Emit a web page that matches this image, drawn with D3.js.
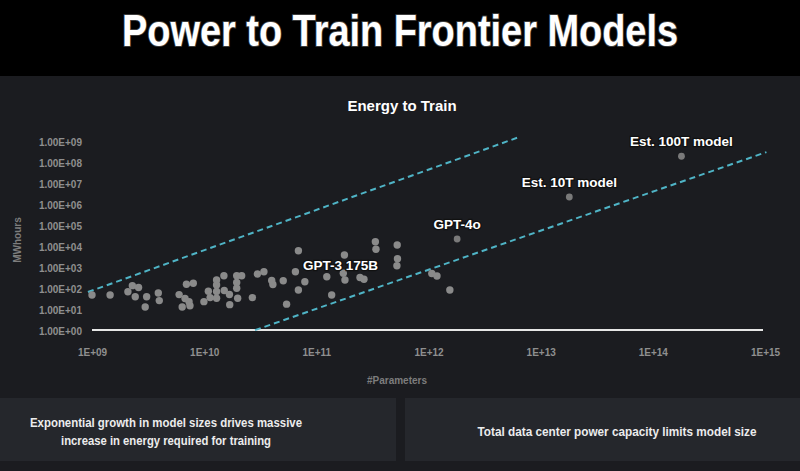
<!DOCTYPE html>
<html><head><meta charset="utf-8">
<script src="https://cdn.jsdelivr.net/npm/d3@7"></script>
<style>
html,body{margin:0;padding:0;background:#1b1c20;}
svg{display:block;}
</style></head>
<body>
<svg id="chart" width="800" height="471"></svg>
<script>
// ---- data ----
const params = [1.0e9,1.45e9,2.09e9,2.29e9,2.6e9,2.43e9,3.07e9,2.98e9,3.9e9,3.98e9,
  5.98e9,6.75e9,6.37e9,6.95e9,8.0e9,7.33e9,7.47e9,9.95e9,1.09e10,1.13e10,
  1.29e10,1.29e10,1.29e10,1.29e10,1.5e10,1.51e10,1.68e10,1.69e10,1.95e10,2.16e10,
  1.95e10,1.95e10,1.99e10,2.69e10,2.98e10,3.41e10,4.0e10,4.1e10,5.07e10,5.43e10,
  6.92e10,6.92e10,6.51e10,7.9e10,1.24e11,1.37e11,1.74e11,1.8e11,1.78e11,2.45e11,
  2.66e11,3.36e11,3.4e11,5.26e11,5.29e11,5.23e11,1.07e12,1.19e12,1.55e12];
const mwh = [52,52,74,144,118,43,43,14,65,28,
  54,35,14,169,187,25,16,25,78,39,
  268,155,76,36,430,85,55,18,430,430,
  204,108,36,39,518,667,254,164,248,19,
  6670,90,667,223,385,52,560,268,4160,353,
  290,17900,7770,12400,2740,1270,547,416,90];
const namedModels = ["GPT-3 175B","GPT-4o","Est. 10T model","Est. 100T model"];
const namedParams = [1.75e11,1.8e12,1.8e13,1.8e14];
const namedMwh = [1287,2.4e4,2.4e6,2.1e8];
const showNamedDot = [false,true,true,true];
const upperTrend = [[9.2e8,72],[6.27e12,1.64e9]];
const lowerTrend = [[2.84e10,1.1],[1.03e15,3.3e8]];
const xTicks = [1e9,1e10,1e11,1e12,1e13,1e14,1e15];
const yTicks = [1,1e1,1e2,1e3,1e4,1e5,1e6,1e7,1e8,1e9];
const mainTitle = "Power to Train Frontier Models";
const chartTitle = "Energy to Train";
const xLabel = "#Parameters";
const yLabel = "MWhours";
const noteLeft = ["Exponential growth in model sizes drives massive","increase in energy required for training"];
const noteRight = ["Total data center power capacity limits model size"];

// ---- drawing ----
const svg = d3.select("#chart");
const sans = "'Liberation Sans',Arial,Helvetica,sans-serif";

// backgrounds
svg.append("rect").attr("x",0).attr("y",0).attr("width",800).attr("height",76).attr("fill","#000");
svg.append("rect").attr("x",0).attr("y",76).attr("width",800).attr("height",395).attr("fill","#1b1c20");
svg.append("rect").attr("x",0).attr("y",398).attr("width",396).attr("height",63).attr("fill","#25272c");
svg.append("rect").attr("x",405).attr("y",398).attr("width",395).attr("height",63).attr("fill","#25272c");

// main title (condensed look)
svg.append("text").attr("x",400).attr("y",46).attr("text-anchor","middle")
  .attr("font-family",sans).attr("font-weight","bold").attr("font-size",45)
  .attr("textLength",556).attr("lengthAdjust","spacingAndGlyphs")
  .attr("fill","#fff").attr("stroke","#3a3a3a").attr("stroke-width",2).attr("paint-order","stroke")
  .text(mainTitle);

// chart title
svg.append("text").attr("x",402).attr("y",111).attr("text-anchor","middle")
  .attr("font-family",sans).attr("font-weight","bold").attr("font-size",15)
  .attr("fill","#fff").text(chartTitle);

const x = d3.scaleLog().domain([1e9,1e15]).range([92,765]);
const y = d3.scaleLog().domain([1,1e9]).range([331,142]);

// axes
const yFmt = d => "1.00E+" + String(Math.round(Math.log10(d))).padStart(2,"0");
const xFmt = d => "1E+" + String(Math.round(Math.log10(d))).padStart(2,"0");

const gy = svg.append("g").attr("transform","translate(92,0)")
  .call(d3.axisLeft(y).tickValues(yTicks).tickFormat(yFmt).tickSize(0).tickPadding(10));
const gx = svg.append("g").attr("transform","translate(0,331)")
  .call(d3.axisBottom(x).tickValues(xTicks).tickFormat(xFmt).tickSize(0).tickPadding(18));
[gx,gy].forEach(g=>{
  g.select(".domain").remove();
  g.selectAll("text").attr("fill","#8f8f8f").attr("font-family",sans)
   .attr("font-weight","bold").attr("font-size",10);
});

// baseline at y = 1
svg.append("line").attr("x1",x(1e9)).attr("x2",x(1e15)-2)
  .attr("y1",y(1)-1).attr("y2",y(1)-1).attr("stroke","#e6e6e6").attr("stroke-width",2);

// axis titles
svg.append("text").attr("x",397).attr("y",384).attr("text-anchor","middle")
  .attr("font-family",sans).attr("font-weight","bold").attr("font-size",10)
  .attr("fill","#7d7d7d").text(xLabel);
svg.append("text").attr("transform","translate(21,240) rotate(-90)").attr("text-anchor","middle")
  .attr("font-family",sans).attr("font-weight","bold").attr("font-size",10)
  .attr("fill","#7d7d7d").text(yLabel);

// trend lines
const line = d3.line().x(d=>x(d[0])).y(d=>y(d[1]));
[upperTrend,lowerTrend].forEach(t=>{
  svg.append("path").attr("d",line(t)).attr("fill","none")
    .attr("stroke","#4fb4c6").attr("stroke-width",2).attr("stroke-dasharray","6,4");
});

// points
const pts = params.map((p,i)=>({p, e:mwh[i]}));
svg.append("g").selectAll("circle").data(pts).join("circle")
  .attr("cx",d=>x(d.p)).attr("cy",d=>y(d.e)).attr("r",3.7).attr("fill","#8a8a8a");

const named = namedModels.map((n,i)=>({n,p:namedParams[i],e:namedMwh[i],dot:showNamedDot[i]}));
svg.append("g").selectAll("circle").data(named.filter(d=>d.dot)).join("circle")
  .attr("cx",d=>x(d.p)).attr("cy",d=>y(d.e)).attr("r",3.4).attr("fill","#7a7a7a");
svg.append("g").selectAll("text").data(named).join("text")
  .attr("x",d=>x(d.p) + (d.dot?0:-3))
  .attr("y",d=>y(d.e) + (d.dot?-10:4))
  .attr("text-anchor","middle")
  .attr("font-family",sans).attr("font-weight","bold").attr("font-size",13.5)
  .attr("fill","#fff").attr("stroke","#111").attr("stroke-width",2.5).attr("paint-order","stroke")
  .text(d=>d.n);

// notes
const noteLeftLen = [272,210];
noteLeft.forEach((t,i)=>{
  svg.append("text").attr("x",166).attr("y",427+i*18).attr("text-anchor","middle")
    .attr("font-family",sans).attr("font-weight","bold").attr("font-size",13)
    .attr("textLength",noteLeftLen[i]).attr("lengthAdjust","spacingAndGlyphs")
    .attr("fill","#ececec").text(t);
});
noteRight.forEach((t,i)=>{
  svg.append("text").attr("x",617).attr("y",436+i*18).attr("text-anchor","middle")
    .attr("font-family",sans).attr("font-weight","bold").attr("font-size",13)
    .attr("textLength",279).attr("lengthAdjust","spacingAndGlyphs")
    .attr("fill","#ececec").text(t);
});
</script>
</body></html>
